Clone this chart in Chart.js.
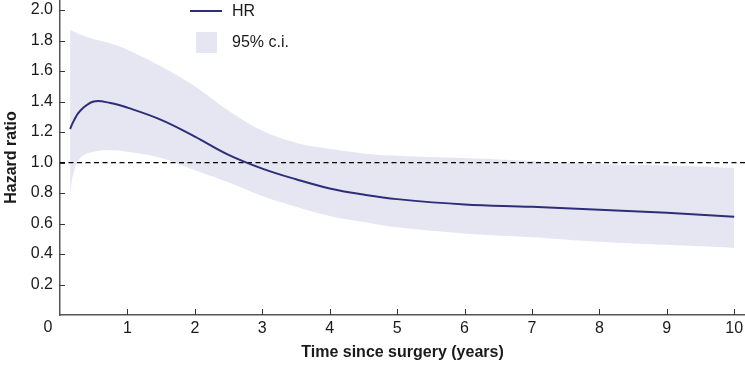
<!DOCTYPE html>
<html>
<head>
<meta charset="utf-8">
<script src="https://cdn.jsdelivr.net/npm/chart.js@4/dist/chart.umd.min.js"></script>
<style>
  html, body { margin: 0; padding: 0; background: #fff; }
  #wrap { width: 745px; height: 366px; position: relative; }
</style>
</head>
<body>
<div id="wrap"><canvas id="hazardChart"></canvas></div>
<script>
// values
const years    = [0.15, 0.2, 0.3, 0.5, 0.75, 1, 1.5, 2, 2.5, 3, 3.5, 4, 4.5, 5, 6, 7, 8, 9, 10];
const hr       = [1.22, 1.27, 1.34, 1.40, 1.39, 1.36, 1.28, 1.17, 1.05, 0.96, 0.89, 0.83, 0.79, 0.76, 0.725, 0.71, 0.69, 0.67, 0.645];
const ciUpper  = [1.87, 1.86, 1.84, 1.81, 1.78, 1.74, 1.63, 1.50, 1.34, 1.21, 1.13, 1.09, 1.06, 1.045, 1.03, 1.01, 0.99, 0.98, 0.965];
const ciLower  = [0.79, 0.93, 1.03, 1.07, 1.08, 1.07, 1.03, 0.95, 0.87, 0.78, 0.71, 0.65, 0.61, 0.575, 0.535, 0.51, 0.48, 0.46, 0.44];
const refX     = [0, 10.2];
const refY     = [1.0, 1.0];
const xTicks   = [0, 1, 2, 3, 4, 5, 6, 7, 8, 9, 10];
const yTicks   = [0.2, 0.4, 0.6, 0.8, 1.0, 1.2, 1.4, 1.6, 1.8, 2.0];

const lineColor = "#2e2d78";
const bandColor = "#e6e6f2";
const textColor = "#1a1a1a";
const fontFamily = "'Liberation Sans', Arial, sans-serif";

const pts = (xs, ys) => xs.map((x, i) => ({ x: x, y: ys[i] }));

// ticks point into the plot, plus the legend and the shared "0"
const extras = {
    id: "extras",
    afterDraw(chart) {
        const ctx = chart.ctx;
        const xs = chart.scales.x, ys = chart.scales.y;
        const area = chart.chartArea;
        ctx.save();
        ctx.strokeStyle = "#333";
        ctx.lineWidth = 1;
        ctx.beginPath();
        yTicks.forEach(v => {
            const p = Math.round(ys.getPixelForValue(v)) + 0.5;
            ctx.moveTo(area.left, p);
            ctx.lineTo(area.left + 5, p);
        });
        xTicks.slice(1).forEach(v => {
            const p = Math.round(xs.getPixelForValue(v)) + 0.5;
            ctx.moveTo(p, area.bottom);
            ctx.lineTo(p, area.bottom - 6);
        });
        ctx.stroke();

        ctx.fillStyle = textColor;
        ctx.font = "16px " + fontFamily;
        ctx.textBaseline = "middle";
        ctx.textAlign = "center";
        ctx.fillText("0", 48, 328);

        // legend
        const hrSet = chart.data.datasets[2];
        const ciSet = chart.data.datasets[0];
        ctx.strokeStyle = hrSet.borderColor;
        ctx.lineWidth = 2;
        ctx.beginPath();
        ctx.moveTo(190, 11);
        ctx.lineTo(222, 11);
        ctx.stroke();
        ctx.fillStyle = ciSet.backgroundColor;
        ctx.fillRect(196, 32, 21, 21);
        ctx.fillStyle = textColor;
        ctx.textAlign = "left";
        ctx.fillText(hrSet.label, 232, 12);
        ctx.fillText(ciSet.label, 232, 43);
        ctx.restore();
    }
};

new Chart(document.getElementById("hazardChart"), {
    type: "line",
    data: {
        datasets: [
            {
                label: "95% c.i.",
                data: pts(years, ciUpper),
                borderWidth: 0,
                pointRadius: 0,
                backgroundColor: bandColor,
                fill: "+1",
                tension: 0.4,
            },
            {
                label: "lower",
                data: pts(years, ciLower),
                borderWidth: 0,
                pointRadius: 0,
                fill: false,
                tension: 0.4,
            },
            {
                label: "HR",
                data: pts(years, hr),
                borderColor: lineColor,
                borderWidth: 2,
                pointRadius: 0,
                fill: false,
                tension: 0.4,
            },
            {
                label: "ref",
                data: pts(refX, refY),
                borderColor: "#000",
                borderWidth: 1.2,
                borderDash: [5, 3.5],
                pointRadius: 0,
                fill: false,
            },
        ],
    },
    options: {
        responsive: true,
        maintainAspectRatio: false,
        animation: false,
        layout: { padding: 0 },
        plugins: {
            legend: { display: false },
            tooltip: { enabled: false },
            filler: { drawTime: "beforeDatasetsDraw" },
        },
        scales: {
            x: {
                type: "linear",
                min: 0,
                max: 10.16,
                afterBuildTicks: s => { s.ticks = xTicks.map(v => ({ value: v })); },
                afterFit: s => { s.height = 51; s.paddingLeft = 0; s.paddingRight = 0; },
                ticks: {
                    padding: 4,
                    maxRotation: 0,
                    autoSkip: false,
                    color: textColor,
                    font: { size: 16, family: fontFamily },
                    callback: v => (v === 0 ? "" : String(v)),
                },
                grid: { display: false, drawTicks: false },
                border: { color: "#555", width: 1.5 },
                title: {
                    display: true,
                    text: "Time since surgery (years)",
                    color: textColor,
                    font: { size: 16, weight: "bold", family: fontFamily },
                    padding: { top: 0, bottom: 4 },
                },
            },
            y: {
                min: 0,
                max: 2.066,
                afterBuildTicks: s => { s.ticks = yTicks.map(v => ({ value: v })); },
                afterFit: s => { s.width = 60; s.paddingTop = 0; s.paddingBottom = 0; },
                ticks: {
                    padding: 7,
                    autoSkip: false,
                    color: textColor,
                    font: { size: 16, family: fontFamily },
                    callback: v => v.toFixed(1),
                },
                grid: { display: false, drawTicks: false },
                border: { color: "#555", width: 1.5 },
                title: {
                    display: true,
                    text: "Hazard ratio",
                    color: textColor,
                    font: { size: 16, weight: "bold", family: fontFamily },
                    padding: { top: 2, bottom: 0 },
                },
            },
        },
    },
    plugins: [extras],
});
</script>
</body>
</html>
